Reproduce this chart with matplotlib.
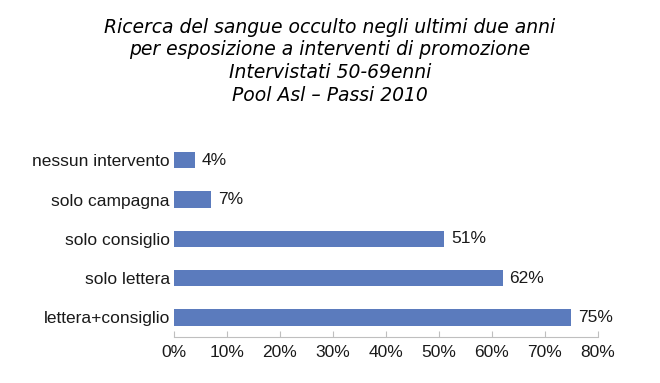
import matplotlib
matplotlib.use('Agg')
import matplotlib.pyplot as plt
from matplotlib.ticker import FuncFormatter

# data (bottom to top)
categories = ['lettera+consiglio', 'solo lettera', 'solo consiglio', 'solo campagna', 'nessun intervento']
values = [75, 62, 51, 7, 4]
title_lines = [
    'Ricerca del sangue occulto negli ultimi due anni',
    'per esposizione a interventi di promozione',
    'Intervistati 50-69enni',
    'Pool Asl \u2013 Passi 2010',
]

bar_color = '#5B7BBD'
label_font, label_size = 'Liberation Sans', 12.5

fig = plt.figure(figsize=(6.6, 3.83), dpi=100)
ax = fig.add_axes([0.2636, 0.120, 0.6424, 0.513])

y = range(len(categories))
ax.barh(y, values, height=0.42, color=bar_color)
for yi, v in zip(y, values):
    ax.text(v + 1.3, yi, f'{v}%', va='center', ha='left', fontsize=label_size, family=label_font, color='#1a1a1a')

ax.set_xlim(0, 80)
ax.set_ylim(-0.5, len(categories) - 0.5)
ax.set_xticks(range(0, 81, 10))
ax.xaxis.set_major_formatter(FuncFormatter(lambda x, pos: f'{int(x)}%'))
ax.set_yticks(list(y))
ax.set_yticklabels(categories)

for s in ['top', 'right', 'left']:
    ax.spines[s].set_visible(False)
ax.spines['bottom'].set_color('#BFBFBF')
ax.tick_params(axis='y', length=0, pad=3, labelsize=label_size)
ax.tick_params(axis='x', direction='in', length=4, color='#BFBFBF', pad=6, labelsize=label_size)
for lbl in ax.get_xticklabels() + ax.get_yticklabels():
    lbl.set_family(label_font)
    lbl.set_color('#1a1a1a')

ys = [0.927, 0.870, 0.810, 0.750]
for t, yy in zip(title_lines, ys):
    fig.text(0.5, yy, t, ha='center', va='center', fontsize=13.5, style='italic', family='DejaVu Sans', color='black')

fig.savefig('out.png', dpi=100)
